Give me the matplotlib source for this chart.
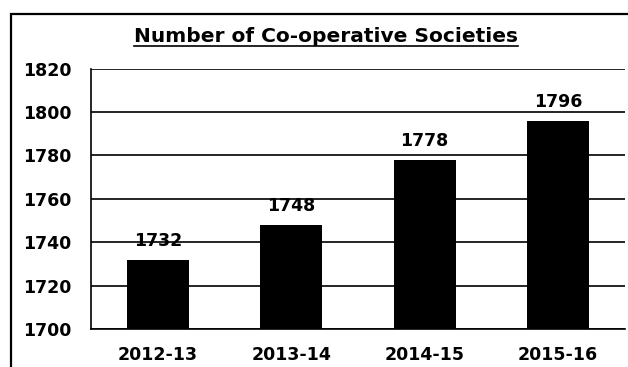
import matplotlib
matplotlib.use("Agg")
import matplotlib.pyplot as plt
from matplotlib.patches import Rectangle
from matplotlib.lines import Line2D

years = ['2012-13', '2013-14', '2014-15', '2015-16']
societies = [1732, 1748, 1778, 1796]
yticks = [1700, 1720, 1740, 1760, 1780, 1800, 1820]

plt.rcParams['font.family'] = 'DejaVu Sans'
plt.rcParams['font.weight'] = 'bold'

fig = plt.figure(figsize=(6.28, 3.67), dpi=100)
ax = fig.add_axes([0.145, 0.1035, 0.85, 0.7095])

x = range(len(years))
ax.bar(x, societies, width=0.465, color='black', zorder=3)
for xi, v in zip(x, societies):
    ax.text(xi, v + 4.5, str(v), ha='center', va='bottom',
            fontsize=12.5, fontweight='bold', zorder=4)

ax.set_xlim(-0.5, len(years) - 0.5)
ax.set_ylim(1700, 1820)
ax.set_yticks(yticks)
ax.set_xticks(list(x))
ax.set_xticklabels(years)
ax.tick_params(axis='both', length=0, labelsize=12.5)
ax.tick_params(axis='y', pad=14)
ax.tick_params(axis='x', pad=12)
for lab in ax.get_xticklabels() + ax.get_yticklabels():
    lab.set_fontweight('bold')

ax.grid(axis='y', color='black', linewidth=1.2, zorder=0)
ax.spines['top'].set_visible(False)
ax.spines['right'].set_visible(False)
ax.spines['left'].set_linewidth(1.2)
ax.spines['bottom'].set_linewidth(1.2)

# outer frame (left and top edges fall inside the figure)
fig.patches.append(Rectangle((11 / 628, -0.1), 1.2, 1.1 - 14 / 367,
                             transform=fig.transFigure, fill=False,
                             edgecolor='black', linewidth=1.6))

title = fig.text(0.519, 1 - 42 / 367, 'Number of Co-operative Societies',
                 ha='center', va='baseline', fontsize=14.5, fontweight='bold')

# underline the title
fig.canvas.draw()
bb = title.get_window_extent().transformed(fig.transFigure.inverted())
uy = 1 - 45.5 / 367
fig.lines.append(Line2D([bb.x0, bb.x1], [uy, uy], transform=fig.transFigure,
                        color='black', linewidth=1.2))

fig.savefig('out.png', dpi=100)
